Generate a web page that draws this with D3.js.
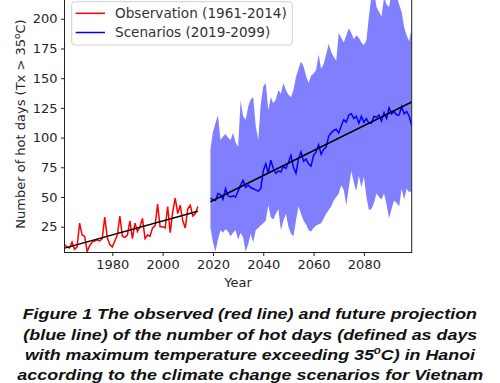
<!DOCTYPE html>
<html><head><meta charset="utf-8">
<script src="https://cdn.jsdelivr.net/npm/d3@7"></script>
<style>body{margin:0;background:#fff}svg{display:block}</style>
</head><body>
<svg id="c" width="500" height="383"></svg>
<script>
const obsYears = d3.range(1961, 2015);
const obsValues = [10,8,7,12,6,8,28,18,17,4,9,12,13,14,13,15,33,16,10,8,13,18,34,17,16,18,30,15,28,21,25,32,15,18,17,24,26,44,25,25,24,42,20,37,49,36,43,30,24,40,43,34,36,42];
const scenYears = d3.range(2019, 2100);
const scenUpper = [90,105,112,119,98,101,103,100,98,104,96,92,131,118,115,126,132,134,110,98,128,143,146,123,134,129,132,140,137,146,140,136,134,140,151,158,164,160,152,146,152,154,157,170,158,162,170,179,172,168,165,188,184,180,186,192,188,183,186,184,180,178,182,202,220,224,210,206,202,218,212,210,222,226,220,212,206,193,186,181,193];
const scenLower = [24,12,4,14,22,20,23,21,17,20,22,14,20,16,4,10,19,12,22,24,26,28,30,43,33,31,36,40,22,30,36,25,19,17,30,42,36,30,27,22,21,24,26,27,28,32,36,39,42,47,50,53,60,56,43,58,72,62,55,68,58,67,50,39,40,45,53,50,48,53,44,32,40,47,45,42,57,48,57,54,55];
const scenMedian = [49,48,47,53,52,48,57,51,50,51,50,55,60,64,58,60,58,57,56,55,57,72,78,70,81,74,70,72,71,76,74,79,85,75,70,82,88,80,82,78,76,85,88,94,86,90,92,101,104,106,107,104,110,115,113,119,120,116,118,112,118,113,116,112,112,118,117,119,114,121,116,125,120,122,119,119,126,120,122,118,110];
const obsTrendYears = [1961, 2014];
const obsTrendValues = [7, 38];
const scenTrendYears = [2019, 2099];
const scenTrendValues = [46, 130];
const xTicks = [1980, 2000, 2020, 2040, 2060, 2080];
const yTicks = [25, 50, 75, 100, 125, 150, 175, 200];
const legendLabels = ["Observation (1961-2014)", "Scenarios (2019-2099)"];
const captionLines = ["Figure 1 The observed (red line) and future projection",
  "(blue line) of the number of hot days (defined as days",
  "with maximum temperature exceeding 35|C) in Hanoi",
  "according to the climate change scenarios for Vietnam"];

const svg = d3.select("#c");
const L = 64.5, R = 411.7, B = 252.5, T = -2;
const x = d3.scaleLinear().domain([1961, 2099]).range([L, R]);
const y = d3.scaleLinear().domain([3.3, 217.5]).range([B, T]);

svg.append("clipPath").attr("id","pc").append("rect")
  .attr("x", L).attr("y", T).attr("width", R-L).attr("height", B-T);
const plot = svg.append("g").attr("clip-path","url(#pc)");

const band = scenYears.map((yr,i)=>({yr, lo:scenLower[i], hi:scenUpper[i]}));
plot.append("path").datum(band)
  .attr("d", d3.area().x(d=>x(d.yr)).y0(d=>y(d.lo)).y1(d=>y(d.hi)))
  .attr("fill", "#8080ff");

const line = d3.line().x(d=>x(d[0])).y(d=>y(d[1]));
plot.append("path").datum(obsYears.map((yr,i)=>[yr, obsValues[i]]))
  .attr("d", line).attr("fill","none").attr("stroke","#ff0000").attr("stroke-width",1.5);
plot.append("path").datum(scenYears.map((yr,i)=>[yr, scenMedian[i]]))
  .attr("d", line).attr("fill","none").attr("stroke","#0000ff").attr("stroke-width",1.5);
plot.append("path").datum(obsTrendYears.map((yr,i)=>[yr, obsTrendValues[i]]))
  .attr("d", line).attr("fill","none").attr("stroke","#000").attr("stroke-width",1.5);
plot.append("path").datum(scenTrendYears.map((yr,i)=>[yr, scenTrendValues[i]]))
  .attr("d", line).attr("fill","none").attr("stroke","#000").attr("stroke-width",1.5);

// frame
svg.append("rect").attr("x", L).attr("y", T).attr("width", R-L).attr("height", B-T)
  .attr("fill","none").attr("stroke","#222").attr("stroke-width",1);

const font = "DejaVu Sans, sans-serif";
const xAxis = svg.append("g").attr("transform", `translate(0,${B})`)
  .call(d3.axisBottom(x).tickValues(xTicks).tickFormat(d3.format("d")).tickSize(3.5).tickPadding(3.5));
const yAxis = svg.append("g").attr("transform", `translate(${L},0)`)
  .call(d3.axisLeft(y).tickValues(yTicks).tickSize(3.5).tickPadding(3.5));
[xAxis, yAxis].forEach(a=>{
  a.select(".domain").remove();
  a.selectAll("line").attr("stroke","#222");
  a.selectAll("text").attr("font-family", font).attr("font-size", 13).attr("fill","#262626");
});

svg.append("text").attr("x", (L+R)/2).attr("y", 287).attr("text-anchor","middle")
  .attr("font-family", font).attr("font-size", 13).attr("fill","#262626").text("Year");

const yl = svg.append("text").attr("transform", `translate(25,124) rotate(-90)`)
  .attr("text-anchor","middle").attr("font-family", font).attr("font-size", 13).attr("fill","#262626");
yl.append("tspan").text("Number of hot days (Tx > 35");
yl.append("tspan").attr("font-size", 9).attr("dy", -5).text("o");
yl.append("tspan").attr("dy", 5).text("C)");

// legend
const lg = svg.append("g");
lg.append("rect").attr("x", 71.7).attr("y", 1.7).attr("width", 220.6).attr("height", 43.3).attr("rx", 3)
  .attr("fill","#fff").attr("fill-opacity",0.8).attr("stroke","#d0d0d0").attr("stroke-width",1);
const lcol = ["#ff0000", "#0000ff"];
legendLabels.forEach((t,i)=>{
  const yy = 13.3 + i*19.2;
  lg.append("line").attr("x1", 75.7).attr("x2", 105).attr("y1", yy).attr("y2", yy)
    .attr("stroke", lcol[i]).attr("stroke-width", 1.5);
  lg.append("text").attr("x", 115).attr("y", yy + 4.8).attr("font-family", font).attr("font-size", 13.6)
    .attr("fill","#333").text(t);
});

// caption
const capX = [[22.7,477],[23.3,477.3],[25,475],[17.3,483.3]];
const capY = [319.3, 339.7, 360, 380];
captionLines.forEach((t,i)=>{
  const te = svg.append("text").attr("x", capX[i][0]).attr("y", capY[i])
    .attr("font-family","Liberation Sans, Arial, sans-serif").attr("font-weight","bold").attr("font-style","italic")
    .attr("font-size", 15.5).attr("fill","#111")
    .attr("textLength", capX[i][1]-capX[i][0]).attr("lengthAdjust","spacingAndGlyphs");
  const parts = t.split("|");
  te.append("tspan").text(parts[0]);
  if (parts.length > 1) {
    te.append("tspan").attr("font-size", 10).attr("dy", -6).text("o");
    te.append("tspan").attr("dy", 6).text(parts[1]);
  }
});
</script>
</body></html>
